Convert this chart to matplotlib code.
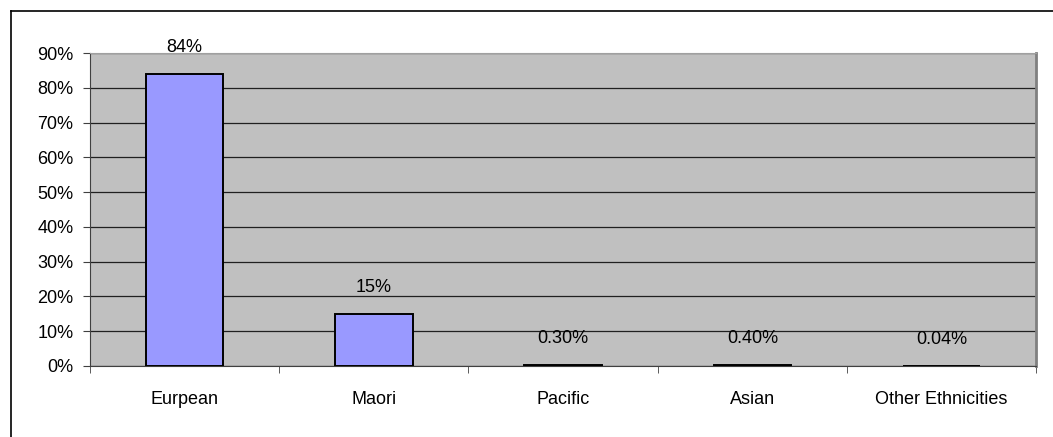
import matplotlib.pyplot as plt
from matplotlib.lines import Line2D
import numpy as np

categories = ['Eurpean', 'Maori', 'Pacific', 'Asian', 'Other Ethnicities']
values = [84, 15, 0.30, 0.40, 0.04]
labels = ['84%', '15%', '0.30%', '0.40%', '0.04%']

plt.rcParams['font.family'] = ['Liberation Sans', 'DejaVu Sans']

fig = plt.figure(figsize=(10.53, 4.37), dpi=100)
ax = fig.add_axes([0.0855, 0.1625, 0.8985, 0.7162])

# outer chart frame (only top and left are visible)
fig.add_artist(Line2D([0.0104, 1.0], [0.975, 0.975], color='black', lw=1.2))
fig.add_artist(Line2D([0.0104, 0.0104], [0.0, 0.975], color='black', lw=1.2))

x = np.arange(len(categories))
ax.set_facecolor('#C0C0C0')
ax.bar(x, values, width=0.41, color='#9999FF', edgecolor='black', linewidth=1.4, zorder=3)

for xi, v, lab in zip(x, values, labels):
    ax.annotate(lab, (xi, v), xytext=(0, 13), textcoords='offset points',
                ha='center', va='bottom', fontsize=13, zorder=4)

ax.set_xlim(-0.5, len(categories) - 0.5)
ax.set_ylim(0, 90)
ax.set_yticks(np.arange(0, 91, 10))
ax.set_yticklabels(['%d%%' % t for t in range(0, 91, 10)], fontsize=13)
ax.yaxis.grid(True, color='#202020', linewidth=0.9, zorder=1)
ax.set_axisbelow(True)

ax.set_xticks(x)
ax.set_xticklabels(categories, fontsize=13)
ax.set_xticks(np.arange(-0.5, len(categories), 1), minor=True)
ax.tick_params(axis='x', which='major', length=0, pad=18)
ax.tick_params(axis='x', which='minor', length=5, color='#404040', direction='out')
ax.tick_params(axis='y', length=5, color='#404040', direction='out', pad=7)

ax.spines['left'].set_color('#404040')
ax.spines['bottom'].set_color('#404040')
ax.spines['right'].set_color('#808080')
ax.spines['right'].set_linewidth(2)
ax.spines['top'].set_color('#A0A0A0')

fig.savefig('out.png', dpi=100)
